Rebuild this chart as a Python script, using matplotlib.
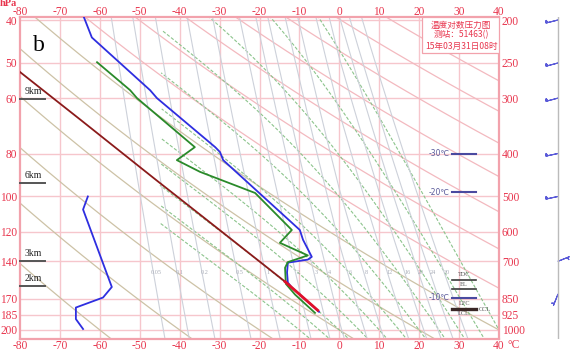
import numpy as np
import matplotlib
matplotlib.use("Agg")
import matplotlib.pyplot as plt
from matplotlib.ticker import NullLocator
from matplotlib.patches import Rectangle
import matplotlib.transforms as mtrans

# ---------------- data ----------------
temp_p = [197, 219, 288, 300, 387, 397, 414, 595, 626, 684, 694, 705, 742, 782, 802, 910]
temp_t = [-64.0, -62.0, -47.4, -45.7, -31.1, -29.9, -29.1, -9.9, -9.1, -6.9, -7.9, -12.9, -13.1, -12.9, -11.9, -5.1]
dew_p = [249, 288, 300, 387, 414, 440, 491, 595, 636, 679, 703, 724, 787, 832, 915]
dew_t = [-60.7, -52.4, -50.7, -36.2, -40.7, -34.9, -21.1, -11.9, -14.9, -7.9, -12.9, -13.6, -13.4, -11.1, -6.1]
upper_p = [100, 107, 160, 169, 178, 189, 199]          # left-axis scale
upper_t = [-63.0, -64.2, -57.0, -59.2, -66.0, -66.0, -64.2]
parcel_p = [240, 262, 336, 459, 595, 778]
parcel_t = [-85.4, -80.0, -64.8, -45.9, -30.0, -13.6]
lower_p = [778, 903]
lower_t = [-13.6, -5.4]

levels_right = [200, 250, 300, 400, 500, 600, 700, 850, 925, 1000]
levels_left = [40, 50, 60, 80, 100, 120, 140, 170, 185, 200]
t_ticks = [-80, -70, -60, -50, -40, -30, -20, -10, 0, 10, 20, 30, 40]

height_p = [301, 466, 699, 796]
height_lbl = ["9km", "6km", "3km", "2km"]

iso_p = [400, 489, 847]
iso_lbl = ["-30℃", "-20℃", "-10℃"]
lvl_p = [771, 809, 897]

theta_tan = [-60, -40, -20, 0, 20, 40]
theta_pink = [60, 80, 100, 120, 140, 160, 180, 200, 220]
moist_t1000 = [-10, -5, 0, 5, 10, 15, 20, 25, 30, 35, 40]
mix_w = [0.05, 0.1, 0.2, 0.5, 1, 2, 3, 4, 6, 8, 12, 16, 20, 24, 30]
mix_lbl = ["0.05", "0.1", "0.2", "0.5", "1", "2", "3", "4", "6", "8", "12", "16", "20", "24", "30"]

wind_p = [200, 250, 300, 400, 500, 700, 830]
wind_u = [16, 15, 15, 14, 14, -5, 2]
wind_v = [4, 4, 4, 3, 3, -2, 5]

# ---------------- style ----------------
RED = "#e8364e"
GRID = "#f6c6cc"
TAN = "#cdc2a6"
PINK = "#f3b9bf"
GREEN_D = "#8cc48c"
MIX = "#cdd1da"
SERIF = "Liberation Serif"

W, H = 571, 351
fig = plt.figure(figsize=(W / 100, H / 100), dpi=100)
L, R, T_, B = 20, 499, 17, 339
ax = fig.add_axes([L / W, 1 - B / H, (R - L) / W, (B - T_) / H])
P_TOP, P_BOT = 196.9, 1048
ax.set_yscale("log")
ax.set_ylim(P_BOT, P_TOP)
ax.set_xlim(-80, 40)

# grid
for t in t_ticks[1:-1]:
    ax.axvline(t, color=GRID, lw=1.0, zorder=1)
for p in levels_right:
    ax.axhline(p, color=GRID, lw=1.0, zorder=1)

pp = np.geomspace(P_TOP * 0.97, P_BOT * 1.02, 300)
kap = 0.2857
for th in theta_tan:
    ax.plot((th + 273.15) * (pp / 1000) ** kap - 273.15, pp, color=TAN, lw=0.9, zorder=2)
for th in theta_pink:
    ax.plot((th + 273.15) * (pp / 1000) ** kap - 273.15, pp, color=PINK, lw=0.9, zorder=2)

# moist adiabats
def f(T, p):
    Tc = T - 273.15
    es = 6.112 * np.exp(17.67 * Tc / (Tc + 243.5))
    rs = 0.622 * es / (p - es)
    return (287.04 * T + 2.501e6 * rs) / (1005.7 + 2.501e6 ** 2 * rs * 0.622 / (287.04 * T * T)) / p

def integ(parr, T0):
    Ts = [T0]
    for i in range(len(parr) - 1):
        p0, p1 = parr[i], parr[i + 1]
        h = p1 - p0
        T = Ts[-1]
        k1 = f(T, p0); k2 = f(T + h / 2 * k1, p0 + h / 2)
        k3 = f(T + h / 2 * k2, p0 + h / 2); k4 = f(T + h * k3, p1)
        Ts.append(T + h / 6 * (k1 + 2 * k2 + 2 * k3 + k4))
    return np.array(Ts)

for t0 in moist_t1000:
    up = np.linspace(1000, 190, 300)
    dn = np.linspace(1000, 1060, 20)
    Tu = integ(up, t0 + 273.15) - 273.15
    Td = integ(dn, t0 + 273.15) - 273.15
    P = np.concatenate([dn[::-1], up[1:]])
    TT = np.concatenate([Td[::-1], Tu[1:]])
    TT = np.where(TT < -45, np.nan, TT)
    ax.plot(TT, P, color=GREEN_D, lw=0.8, ls=(0, (3, 1.6)), zorder=2)

# mixing ratio lines
def t_from_e(e):
    tw = 243.5 * np.log(e / 6.112) / (17.67 - np.log(e / 6.112))
    ti = 272.62 * np.log(e / 6.112) / (22.46 - np.log(e / 6.112))
    return np.where(tw < 0, ti, tw)

for w, lb in zip(mix_w, mix_lbl):
    e = w * pp / (622 + w)
    ax.plot(t_from_e(e), pp, color=MIX, lw=0.8, zorder=2)
    e0 = w * 743 / (622 + w)
    ax.text(float(t_from_e(e0)) + 0.6, 743, lb, fontsize=4.5, color="#a9adb8",
            ha="center", va="center", family=SERIF, zorder=3)

# data lines
ax.plot(parcel_t, parcel_p, color="#8b1a1a", lw=1.3, zorder=5)
ax.plot(temp_t, temp_p, color="#2e2ee0", lw=1.3, zorder=6)
ax.plot(dew_t, dew_p, color="#2a8a2a", lw=1.3, zorder=6)
ax.plot(lower_t, lower_p, color="#e0102a", lw=2.0, zorder=7)

for s in ax.spines.values():
    s.set_color("#f2a2ac")
    s.set_linewidth(1.6)

# left (upper-air) pressure axis
axL = ax.twinx()
axL.set_yscale("log")
axL.set_ylim(P_BOT / 5, P_TOP / 5)
axL.yaxis.set_minor_locator(NullLocator())
axL.set_yticks(levels_left)
axL.set_yticklabels([str(v) for v in levels_left])
axL.yaxis.tick_left()
axL.tick_params(axis="y", which="both", length=0, colors=RED, labelsize=8.3, pad=2,
                right=False, labelright=False, left=True, labelleft=True)
for lab in axL.get_yticklabels():
    lab.set_family(SERIF)
for s in axL.spines.values():
    s.set_visible(False)
axL.plot(upper_t, upper_p, color="#2e2ee0", lw=1.3, zorder=6)

# main axis ticks (right side, bottom)
ax.yaxis.set_minor_locator(NullLocator())
ax.set_yticks(levels_right)
ax.set_yticklabels([str(v) for v in levels_right])
ax.yaxis.tick_right()
ax.tick_params(axis="y", which="both", length=0, colors=RED, labelsize=8.3, pad=2,
               left=False, labelleft=False, right=True, labelright=True)
ax.set_xticks(t_ticks)
ax.set_xticklabels([str(v) for v in t_ticks])
ax.tick_params(axis="x", which="both", length=0, top=False, labeltop=False, bottom=True,
               labelbottom=True, colors=RED, labelsize=8.3, pad=1)
for lab in ax.get_xticklabels() + ax.get_yticklabels():
    lab.set_family(SERIF)

# top temperature labels
xtop = mtrans.blended_transform_factory(ax.transData, ax.transAxes)
for t in t_ticks:
    ax.text(t, 1.0 + 5 / 322, str(t), transform=xtop, color=RED, fontsize=8.3, family=SERIF,
            ha="center", va="center", clip_on=False)

# labels
fig.text(0 / W, 1 - 4 / H, "hPa", color=RED, fontsize=7.5, family=SERIF, weight="bold",
         ha="left", va="center")
fig.text(514 / W, 1 - 345 / H, "°C", color=RED, fontsize=8.3, family=SERIF,
         ha="center", va="center")
ax.text(0.04, 0.91, "b", transform=ax.transAxes, fontsize=17, family=SERIF,
        ha="center", va="center", zorder=8)

blend = mtrans.blended_transform_factory(ax.transAxes, ax.transData)
for p, lb in zip(height_p, height_lbl):
    ax.plot([0, 0.052], [p, p], color="#555555", lw=1.4, transform=blend, zorder=8, clip_on=False)
    ax.text(0.027, p * 0.985, lb, transform=blend, fontsize=7, family=SERIF, ha="center",
            va="bottom", color="#222222", zorder=8)

for p, lb in zip(iso_p, iso_lbl):
    ax.plot([0.902, 0.952], [p, p], color="#4a4aa0", lw=1.5, transform=blend, zorder=8)
    ax.text(0.897, p, lb, transform=blend, fontsize=5.5, color="#5a5a9a", ha="right",
            va="center", family=["DejaVu Sans"], zorder=8)

ax.plot([0.902, 0.952], [lvl_p[0], lvl_p[0]], color="#3a3a3a", lw=1.2, transform=blend, zorder=8)
ax.plot([0.902, 0.952], [lvl_p[1], lvl_p[1]], color="#3a3a3a", lw=1.2, transform=blend, zorder=8)
ax.plot([0.902, 0.952], [lvl_p[2], lvl_p[2]], color="#3a2626", lw=2.4, transform=blend, zorder=8)
ax.text(0.927, lvl_p[0] * 0.985, "TDC", transform=blend, fontsize=4.5, ha="center", va="bottom",
        color="#555555", family=SERIF, zorder=8)
ax.text(0.927, (lvl_p[0] * lvl_p[1]) ** 0.5, "EL", transform=blend, fontsize=4.5, ha="center",
        va="center", color="#555555", family=SERIF, zorder=8)
ax.text(0.927, lvl_p[2] * 0.985, "LFC", transform=blend, fontsize=4.5, ha="center", va="bottom",
        color="#555555", family=SERIF, zorder=8)
ax.text(0.927, lvl_p[2] * 1.012, "LCL", transform=blend, fontsize=4.5, ha="center", va="top",
        color="#555555", family=SERIF, zorder=8)
ax.text(0.957, lvl_p[2], "CCL", transform=blend, fontsize=4.5, ha="left", va="center",
        color="#555555", family=SERIF, zorder=8)

# title box
ax.add_patch(Rectangle((0.839, 0.888), 0.161, 0.112, transform=ax.transAxes, facecolor="white",
                       edgecolor="#f2a2ac", lw=0.9, zorder=9))
cjk = ["Noto Sans CJK SC", "DejaVu Sans"]
for yy, s in zip([0.975, 0.944, 0.910], ["温度对数压力图", "测站：51463()", "15年03月31日08时"]):
    ax.text(0.921, yy, s, transform=ax.transAxes, fontsize=6.2, color=RED, ha="center",
            va="center", family=cjk, zorder=10)

# wind barbs
axW = fig.add_axes([545 / W, 1 - B / H, 26 / W, (B - T_) / H])
axW.set_yscale("log")
axW.set_ylim(P_BOT, P_TOP)
axW.set_xlim(-1, 1)
axW.axis("off")
axW.axvline(0, color="#bbbbbb", lw=1.0)
axW.barbs(np.zeros(len(wind_p)), wind_p, wind_u, wind_v, length=4.2, color="#5a5ad8",
          linewidth=0.8, pivot="tip")

fig.savefig("out.png", dpi=100, facecolor="white")
